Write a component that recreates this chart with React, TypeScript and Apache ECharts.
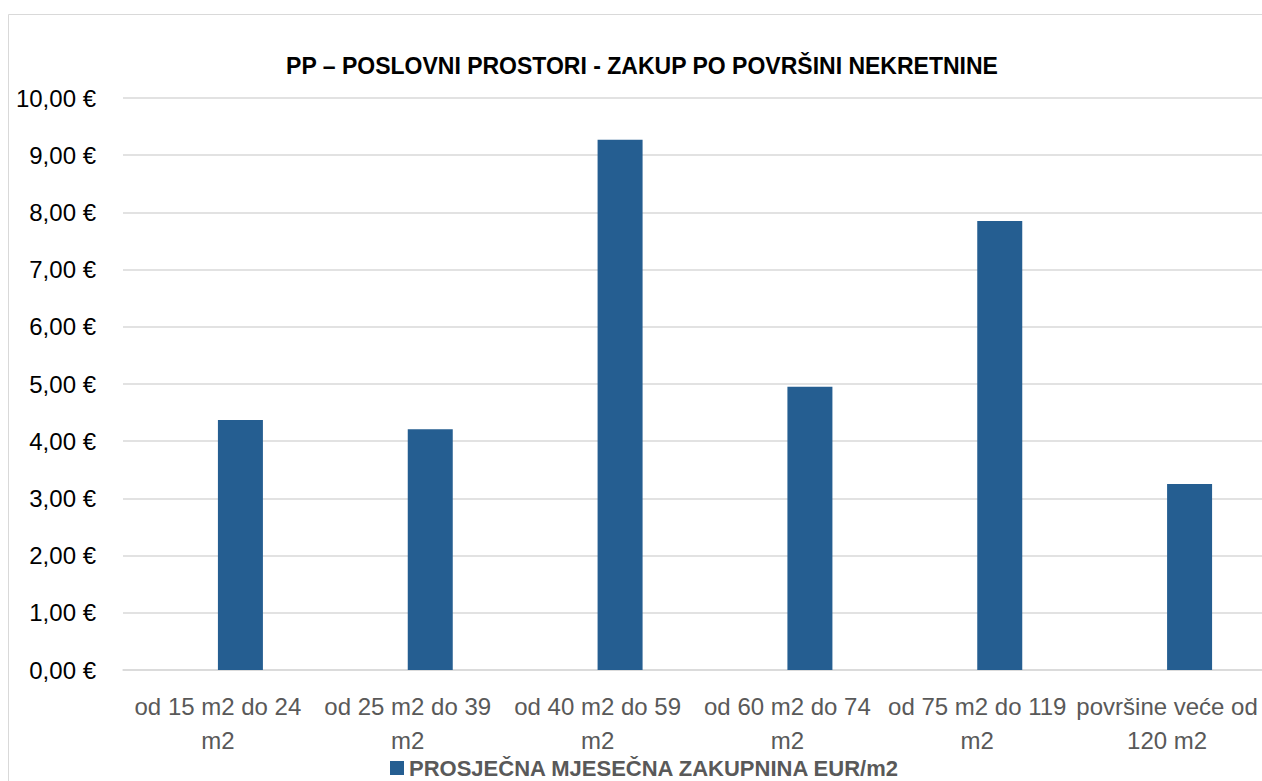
import React, { useEffect, useRef } from "react";
import * as echarts from "echarts";

const categories: string[] = [
  "od 15 m2 do 24\nm2",
  "od 25 m2 do 39\nm2",
  "od 40 m2 do 59\nm2",
  "od 60 m2 do 74\nm2",
  "od 75 m2 do 119\nm2",
  "površine veće od\n120 m2",
];
const seriesName = "PROSJEČNA MJESEČNA ZAKUPNINA EUR/m2";
const rentValues: number[] = [4.37, 4.21, 9.27, 4.95, 7.85, 3.25];
const emptyValues: (number | null)[] = [null, null, null, null, null, null];
const titleText = "PP – POSLOVNI PROSTORI - ZAKUP PO POVRŠINI NEKRETNINE";
const yMin = 0;
const yMax = 10;
const yStep = 1;

const FONT = "'Liberation Sans', Arial, sans-serif";

export default function App() {
  const ref = useRef<HTMLDivElement>(null);
  useEffect(() => {
    if (!ref.current) return;
    const chart = echarts.init(ref.current, undefined, { renderer: "svg" });
    chart.setOption({
      animation: false,
      backgroundColor: "#ffffff",
      textStyle: { fontFamily: FONT },
      title: {
        text: titleText,
        left: 637,
        textAlign: "center",
        top: 49,
        textStyle: { fontFamily: FONT, fontSize: 23, fontWeight: "bold", color: "#000000" },
      },
      graphic: [
        {
          type: "rect",
          shape: { x: 8.5, y: 14.5, width: 1400, height: 900 },
          style: { fill: "none", stroke: "#d9d9d9", lineWidth: 1 },
          silent: true,
          z: -1,
        },
      ],
      legend: {
        data: [seriesName],
        left: 390,
        top: 757,
        padding: 0,
        icon: "rect",
        itemWidth: 14,
        itemHeight: 14,
        itemGap: 10,
        textStyle: { fontFamily: FONT, fontSize: 22, fontWeight: "bold", color: "#595959" },
      },
      grid: { left: 123, right: 0, top: 98, bottom: 111, containLabel: false },
      xAxis: {
        type: "category",
        data: categories,
        axisLine: { show: true, lineStyle: { color: "#d9d9d9", width: 1.5 } },
        axisTick: { show: false },
        axisLabel: {
          interval: 0,
          fontFamily: FONT,
          fontSize: 24,
          lineHeight: 34,
          color: "#595959",
          margin: 19,
        },
      },
      yAxis: {
        type: "value",
        min: yMin,
        max: yMax,
        interval: yStep,
        axisLine: { show: false },
        axisTick: { show: false },
        splitLine: { lineStyle: { color: "#d9d9d9", width: 1.5 } },
        axisLabel: {
          fontFamily: FONT,
          fontSize: 24,
          color: "#000000",
          margin: 27,
          formatter: (v: number) => v.toFixed(2).replace(".", ",") + " €",
        },
      },
      series: [
        {
          name: "_empty",
          type: "bar",
          data: emptyValues,
          barWidth: 45,
          barGap: "0%",
          itemStyle: { color: "#255e91" },
        },
        {
          name: seriesName,
          type: "bar",
          data: rentValues,
          barWidth: 45,
          barGap: "0%",
          itemStyle: { color: "#255e91" },
        },
      ],
    });
    return () => chart.dispose();
  }, []);
  return (
    <div
      ref={ref}
      style={{ position: "fixed", left: 0, top: 0, width: 1262, height: 781 }}
    />
  );
}
